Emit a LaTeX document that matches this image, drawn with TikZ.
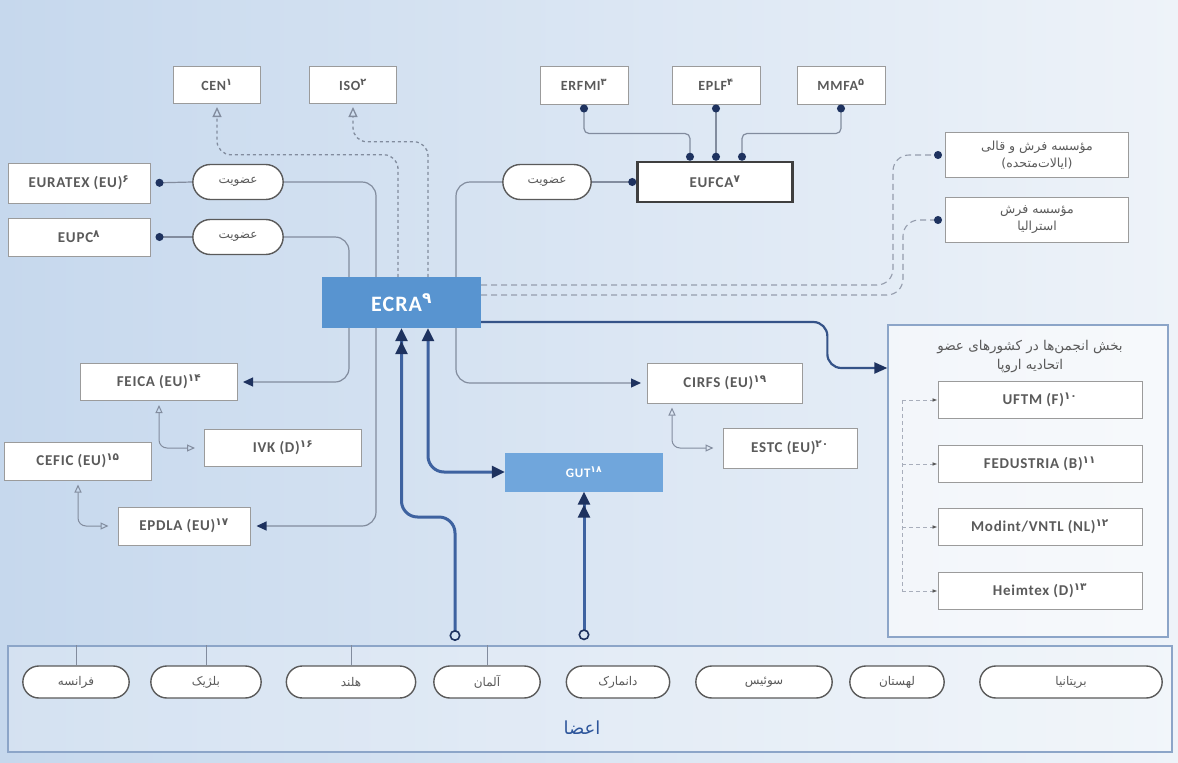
\documentclass[tikz,border=0pt]{standalone}
\usepackage{fontspec}
\setmainfont{Carlito}
\newfontfamily\orgfont[LetterSpace=5]{Carlito}
\newfontfamily\fafont[Script=Arabic]{DejaVu Sans}
\TeXXeTstate=1
\usetikzlibrary{arrows.meta,shapes.misc,calc}

\definecolor{bgleft}{RGB}{198,216,237}
\definecolor{bgright}{RGB}{238,243,249}
\definecolor{txtgray}{RGB}{90,90,90}
\definecolor{boxline}{RGB}{155,155,155}
\definecolor{wirecol}{RGB}{130,140,158}
\definecolor{navy}{RGB}{30,50,95}
\definecolor{ecrablue}{RGB}{88,148,208}
\definecolor{gutblue}{RGB}{112,166,220}
\definecolor{trunkblue}{RGB}{62,98,160}
\definecolor{panelline}{RGB}{140,165,200}
\definecolor{memblue}{RGB}{45,85,155}

\newcommand{\fa}[1]{{\fafont\beginR #1\endR}}
\newcommand{\fnum}[1]{\textsuperscript{\fafont #1}}

\begin{document}
\begin{tikzpicture}[x=1pt, y=-1pt,
    org/.style={draw=boxline, line width=1pt, fill=white, minimum height=38pt, inner sep=2pt,
      text=txtgray, font=\orgfont\fontsize{15}{17}\selectfont\bfseries},
    toporg/.style={org, minimum width=87pt, minimum height=37pt, font=\orgfont\fontsize{14}{16}\selectfont\bfseries},
    natorg/.style={org, minimum width=204pt, minimum height=37pt},
    pill/.style={rounded rectangle, draw=txtgray, line width=1.4pt, fill=white, minimum width=97pt,
      minimum height=35pt, text=txtgray, font=\fafont\fontsize{12}{14}\selectfont},
    country/.style={pill, minimum height=32pt},
    hub/.style={fill=ecrablue, text=white, inner sep=0pt, font=\orgfont\fontsize{22}{24}\selectfont\bfseries},
    wire/.style={wirecol, line width=1.2pt, rounded corners=14pt},
    dashwire/.style={wirecol, line width=1.3pt, dash pattern=on 3pt off 3pt, rounded corners=14pt},
    farwire/.style={wirecol!85, line width=1.1pt, dash pattern=on 6pt off 4pt, rounded corners=16pt},
    faint/.style={wirecol!70, line width=0.8pt, dash pattern=on 4pt off 3pt},
    openlink/.style={wirecol, line width=1pt, rounded corners=8pt, shorten <=4pt, shorten >=9pt,
      {Triangle[open,length=8pt,width=7pt]}-{Triangle[open,length=8pt,width=7pt]}},
    trunk/.style={trunkblue, line width=3pt, rounded corners=16pt}]

    \useasboundingbox (0,0) rectangle (1178,763);
    \fill[left color=bgleft, right color=bgright] (0,0) rectangle (1178,763);

    % standards bodies and the flooring federations
    \node[toporg] (cen) at (217,85) {CEN\fnum{۱}};
    \node[toporg] (iso) at (353,85) {ISO\fnum{۲}};
    \node[toporg, minimum width=88pt, minimum height=38pt] (erfmi) at (584,85) {ERFMI\fnum{۳}};
    \node[toporg, minimum width=88pt, minimum height=38pt] (eplf) at (716,85) {EPLF\fnum{۴}};
    \node[toporg, minimum width=88pt, minimum height=38pt] (mmfa) at (841,85) {MMFA\fnum{۵}};

    % memberships
    \node[org, minimum width=142pt, minimum height=40pt] (euratex) at (79,183) {EURATEX (EU)\fnum{۶}};
    \node[org, minimum width=142pt] (eupc) at (79,237) {EUPC\fnum{۸}};
    \node[pill] (memA) at (238,182) {\fa{عضویت}};
    \node[pill] (memB) at (238,237) {\fa{عضویت}};
    \node[pill, minimum width=95pt] (memC) at (547,182) {\fa{عضویت}};
    \node[org, draw=txtgray!70!black, line width=2.5pt, minimum width=155pt, minimum height=40pt] (eufca) at (715,182) {EUFCA\fnum{۷}};

    % carpet institutes overseas
    \node[org, minimum width=183pt, minimum height=45pt, align=center, font=\fafont\fontsize{12.5}{17}\selectfont]
      (usrug) at (1037,155) {\fa{مؤسسه فرش و قالی}\\\fa{(ایالات‌متحده)}};
    \node[org, minimum width=183pt, minimum height=45pt, align=center, font=\fafont\fontsize{12.5}{17}\selectfont]
      (aurug) at (1037,220) {\fa{مؤسسه فرش}\\\fa{استرالیا}};

    % the hub and GUT
    \node[hub, minimum width=159pt, minimum height=51pt] (ecra) at (401.5,302.5) {ECRA\fnum{۹}};
    \node[hub, fill=gutblue, minimum width=158pt, minimum height=39pt, font=\orgfont\fontsize{13}{15}\selectfont\bfseries]
      (gut) at (584,472) {GUT\fnum{۱۸}};

    % european bodies
    \node[org, minimum width=157pt, minimum height=37pt] (feica) at (159,382) {FEICA (EU)\fnum{۱۴}};
    \node[org, minimum width=157pt, minimum height=37pt] (ivk) at (283,448) {IVK (D)\fnum{۱۶}};
    \node[org, minimum width=147pt] (cefic) at (78,461) {CEFIC (EU)\fnum{۱۵}};
    \node[org, minimum width=132pt] (epdla) at (184,526) {EPDLA (EU)\fnum{۱۷}};
    \node[org, minimum width=155pt, minimum height=40pt] (cirfs) at (725,383) {CIRFS (EU)\fnum{۱۹}};
    \node[org, minimum width=134pt, minimum height=40pt] (estc) at (790,448) {ESTC (EU)\fnum{۲۰}};

    % national associations in EU member states
    \node[draw=panelline, line width=1.3pt, fill=white, fill opacity=0.55, minimum width=280pt, minimum height=312pt] (natl) at (1028,481) {};
    \node[text=txtgray, align=center, font=\fafont\fontsize{13.5}{19}\selectfont] (natlhead) at (1030,357)
      {\fa{بخش انجمن‌ها در کشورهای عضو}\\\fa{اتحادیه اروپا}};
    \node[natorg] (uftm) at (1040,400) {UFTM (F)\fnum{۱۰}};
    \node[natorg] (fedus) at (1040,464) {FEDUSTRIA (B)\fnum{۱۱}};
    \node[natorg] (modint) at (1040,527) {Modint/VNTL (NL)\fnum{۱۲}};
    \node[natorg] (heimtex) at (1040,591) {Heimtex (D)\fnum{۱۳}};

    % members panel
    \node[draw=panelline, line width=1.5pt, fill=white, fill opacity=0.25, minimum width=1164pt, minimum height=106pt] (members) at (590,699) {};
    \node[country, minimum width=113pt] (fr) at (76,682) {\fa{فرانسه}};
    \node[country, minimum width=117pt] (be) at (206,682) {\fa{بلژیک}};
    \node[country, minimum width=136pt] (nl) at (351,682) {\fa{هلند}};
    \node[country, minimum width=113pt] (de) at (487,682) {\fa{آلمان}};
    \node[country, minimum width=110pt] (dk) at (618,682) {\fa{دانمارک}};
    \node[country, minimum width=143pt] (ch) at (764,682) {\fa{سوئیس}};
    \node[country, minimum width=101pt] (pl) at (897,682) {\fa{لهستان}};
    \node[country, minimum width=189pt] (uk) at (1071,682) {\fa{بریتانیا}};
    \node[text=memblue, font=\fafont\fontsize{18}{20}\selectfont] (aazaa) at (582,728) {\fa{اعضا}};

    % x positions of the wires that run past ECRA
    \coordinate (busA) at (376,0);
    \coordinate (busB) at (349,0);
    \coordinate (busC) at (456,0);
    \coordinate (busD) at (398,0);
    \coordinate (busE) at (428,0);
    \coordinate (natlbus) at (902,0);
    \coordinate (deTap) at (455,646);

    % membership wires
    \draw[wire, shorten >=5pt, -{Circle[length=8pt,color=navy]}] (memA.west) -- (euratex.east);
    \draw[wire, shorten >=5pt, -{Circle[length=8pt,color=navy]}] (memB.west) -- (eupc.east);
    \draw[wire, -{Circle[length=8pt,color=navy]}] (memC.east) -- (eufca.west);
    \draw[wire] (memA.east) -| (ecra.north -| busA);
    \draw[wire] (memB.east) -| (ecra.north -| busB);
    \draw[wire] (memC.west) -| (ecra.north -| busC);

    % ECRA down to the european bodies
    \draw[wire, shorten >=5pt, -{Triangle[length=10pt,width=9pt,color=navy]}] (ecra.south -| busB) |- (feica.east);
    \draw[wire, shorten >=6pt, -{Triangle[length=10pt,width=9pt,color=navy]}] (ecra.south -| busA) |- (epdla.east);
    \draw[wire, shorten >=6pt, -{Triangle[length=10pt,width=9pt,color=navy]}] (ecra.south -| busC) |- (cirfs.west);
    \draw[openlink] (feica.south) |- (ivk.west);
    \draw[openlink] (cefic.south) |- (epdla.west);
    \draw[openlink] ([xshift=-53pt]cirfs.south) |- (estc.west);

    % EUFCA members
    \draw[wire, rounded corners=5pt, {Circle[length=8pt,color=navy]}-{Circle[length=8pt,color=navy]}]
      (erfmi.south) -- ++(0,29) -| ([xshift=-25pt]eufca.north);
    \draw[wire, {Circle[length=8pt,color=navy]}-{Circle[length=8pt,color=navy]}]
      (eplf.south) -- (eplf.south |- eufca.north);
    \draw[wire, rounded corners=5pt, {Circle[length=8pt,color=navy]}-{Circle[length=8pt,color=navy]}]
      (mmfa.south) -- ++(0,29) -| ([xshift=27pt]eufca.north);

    % dashed links to CEN and ISO
    \draw[dashwire, shorten >=3pt, -{Triangle[open,length=10pt,width=9pt]}] (ecra.north -| busD) -- ++(0,-122) -| (cen.south);
    \draw[dashwire, shorten >=3pt, -{Triangle[open,length=10pt,width=9pt]}] (ecra.north -| busE) -- ++(0,-135) -| (iso.south);

    % dashed links overseas
    \draw[farwire, shorten >=3pt, -{Circle[length=8pt,color=navy]}] ([yshift=17.5pt]ecra.east) -| ([xshift=-52pt]usrug.west) -- (usrug.west);
    \draw[farwire, shorten >=3pt, -{Circle[length=8pt,color=navy]}] ([yshift=7.5pt]ecra.east) -| ([xshift=-42pt]aurug.west) -- (aurug.west);

    % ECRA to the national associations
    \draw[trunkblue!85!black, line width=2.2pt, rounded corners=14pt, -{Triangle[length=13pt,width=11pt,color=navy]}]
      ([yshift=-19.5pt]ecra.east) -| ([xshift=-60pt,yshift=113pt]natl.west) -- ([yshift=113pt]natl.west);
    \draw[faint] (natlbus |- uftm.west) -- (natlbus |- heimtex.west);
    \foreach \n in {uftm,fedus,modint,heimtex}
      \draw[faint, -{Latex[length=5pt,color=txtgray]}] (natlbus |- \n.west) -- (\n.west);

    % members feeding ECRA and GUT
    \draw[trunk, shorten <=5pt, {Circle[open,length=11pt,width=11pt,line width=1.6pt,color=navy]}-{Triangle[length=13pt,width=12pt,color=navy] Triangle[length=13pt,width=12pt,color=navy]}]
      (deTap) -- ++(0,-129) -| (ecra.south);
    \draw[trunk, shorten <=5pt, {Circle[open,length=11pt,width=11pt,line width=1.6pt,color=navy]}-{Triangle[length=13pt,width=12pt,color=navy] Triangle[length=13pt,width=12pt,color=navy]}]
      (members.north -| gut) -- (gut.south);
    \draw[trunk, {Triangle[length=13pt,width=12pt,color=navy]}-{Triangle[length=13pt,width=12pt,color=navy]}]
      (ecra.south -| busE) |- (gut.west);

    % ticks above the country pills
    \foreach \c in {fr,be,nl,de}
      \draw[wirecol, line width=0.8pt] (\c.north) -- (\c.north |- members.north);

\end{tikzpicture}
\end{document}
